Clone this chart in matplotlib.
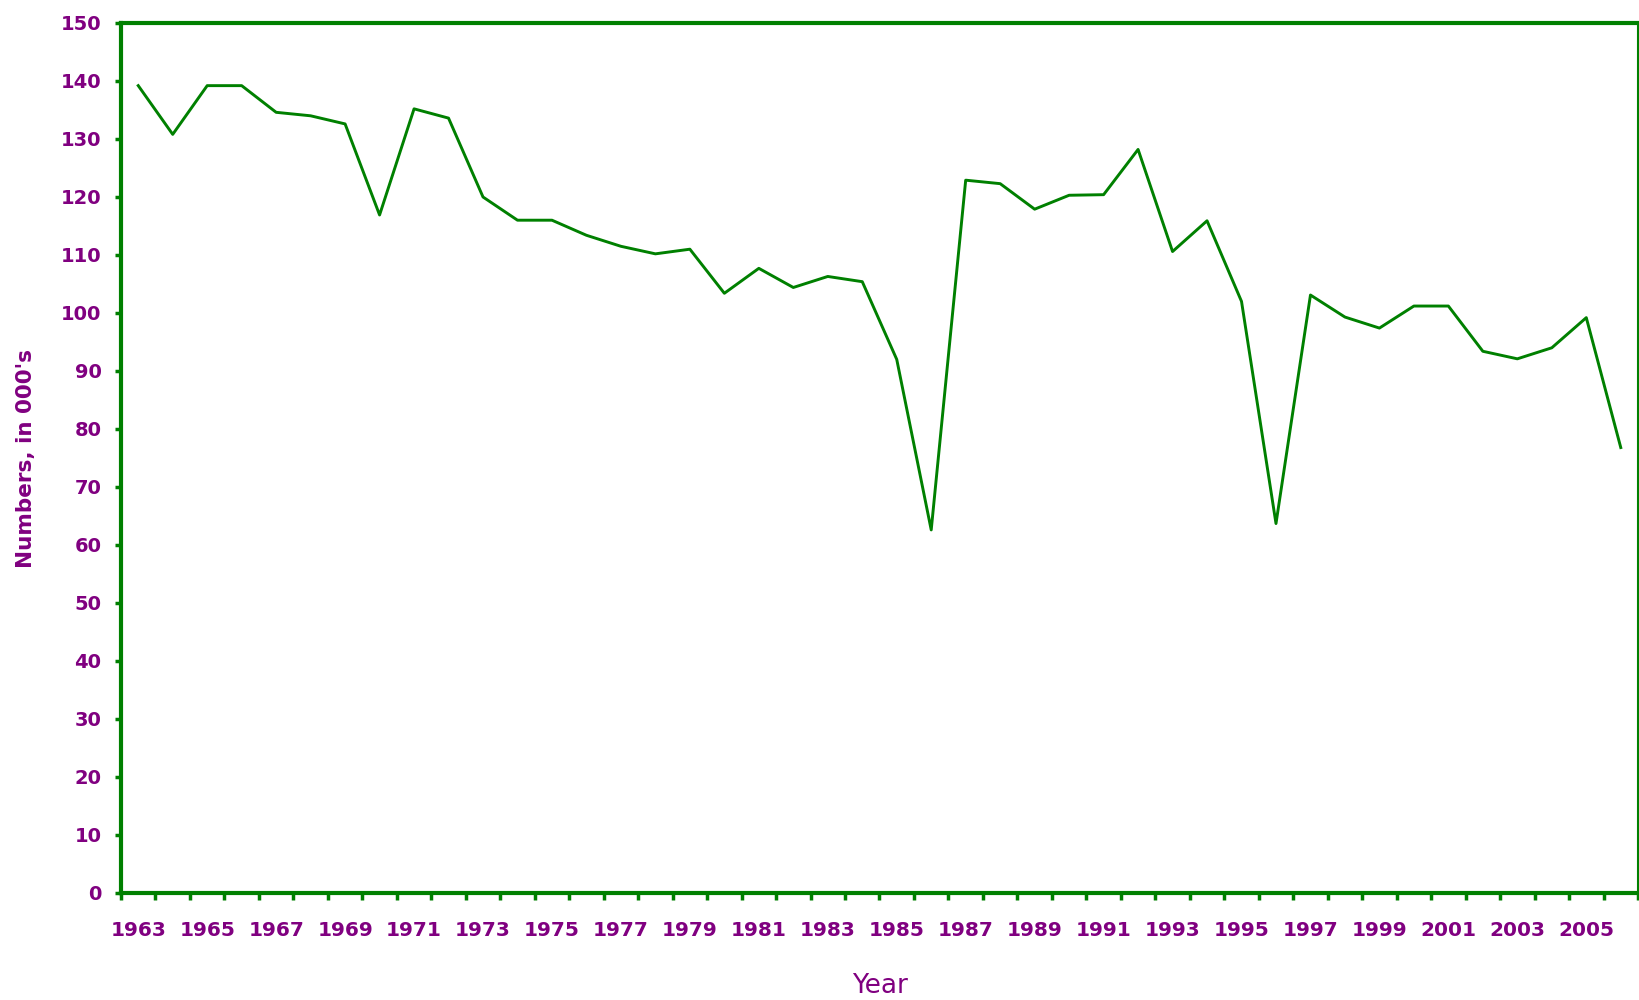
import matplotlib
matplotlib.use("Agg")
import matplotlib.pyplot as plt
import numpy as np

years = list(range(1963, 2007))
numbers = [139.2, 130.8, 139.2, 139.2, 134.6, 134.0, 132.6, 116.9, 135.2, 133.6,
           120.0, 116.0, 116.0, 113.4, 111.5, 110.2, 111.0, 103.4, 107.7, 104.4,
           106.3, 105.4, 92.0, 62.6, 122.9, 122.3, 117.9, 120.3, 120.4, 128.2,
           110.6, 115.9, 102.0, 63.7, 103.1, 99.3, 97.4, 101.2, 101.2, 93.4,
           92.1, 94.0, 99.2, 76.8]

purple = "#800080"
green = "#008000"

fig = plt.figure(figsize=(16.4, 10), dpi=100)
ax = fig.add_axes([121 / 1640, 107 / 1000, 1517 / 1640, 870 / 1000])

# categories sit in the middle of each slot, ticks between slots
x = np.arange(len(years)) + 0.5
ax.plot(x, numbers, color=green, lw=2.1)

ax.set_xlim(0, len(years))
ax.set_ylim(0, 150)

ax.set_yticks(range(0, 151, 10))
ax.set_xticks(np.arange(len(years) + 1))
ax.set_xticklabels([])
ax.set_xticks(x[::2], minor=True)
ax.set_xticklabels([str(y) for y in years[::2]], minor=True)

ax.tick_params(axis="y", colors=green, labelcolor=purple, length=4, width=2.5,
               pad=10, labelsize=14)
ax.tick_params(axis="x", which="major", colors=green, length=5, width=2.5)
ax.tick_params(axis="x", which="minor", length=0, pad=20, labelsize=14.5,
               labelcolor=purple)
for lab in ax.get_yticklabels() + ax.get_xticklabels(minor=True):
    lab.set_fontweight("bold")

for side in ["left", "top", "bottom"]:
    ax.spines[side].set_color(green)
    ax.spines[side].set_linewidth(3)
ax.spines["right"].set_color(green)
ax.spines["right"].set_linewidth(1.5)

ax.set_ylabel("Numbers, in 000's", color=purple, fontsize=15.5, fontweight="bold")
ax.yaxis.set_label_coords(-0.056, 0.5)
ax.set_xlabel("Year", color=purple, fontsize=19)
ax.xaxis.set_label_coords(0.5, -0.092)

fig.savefig("out.png", dpi=100)
